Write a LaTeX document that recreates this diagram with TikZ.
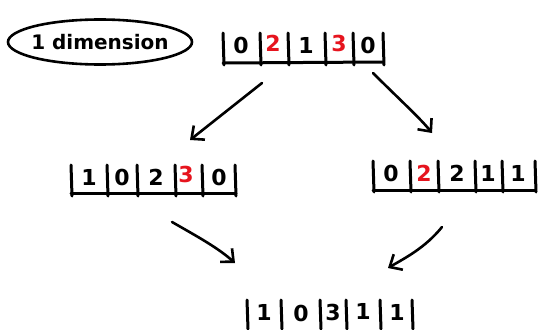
\documentclass[tikz,border=0pt]{standalone}
\usepackage{fontspec}
\setmainfont{DejaVu Sans}
\usetikzlibrary{arrows.meta,shapes.geometric}
\definecolor{hred}{RGB}{230,20,30}
\tikzset{
  bar/.style={line width=3pt,line cap=round,black},
  arr/.style={line width=2.6pt,line cap=round,-{Straight Barb[length=10pt,width=18pt,line width=2.6pt]}},
  digit/.style={font=\fontsize{22}{22}\selectfont\bfseries,inner sep=0pt},
  reddigit/.style={digit,text=hred},
  oval/.style={draw,ellipse,line width=2.6pt,minimum width=184pt,minimum height=45pt,inner sep=0pt},
  ovaltext/.style={inner sep=0pt,font=\fontsize{20}{20}\selectfont\bfseries}
}
\begin{document}
\begin{tikzpicture}[x=1pt,y=-1pt]
\useasboundingbox (0,0) rectangle (540,329);
% label
\node[oval] (lbl) at (100,42) {};
\node[ovaltext] (lbltext) at (lbl.center) {1 dimension};
% top array
\draw[bar] (223,63) -- (383,62);
\foreach \x in {223,260,288,325,353,383} \draw[bar] (\x,33) -- (\x+1,65);
\node[digit] (t1) at (241,45) {0};
\node[reddigit] (t2) at (273,43) {2};
\node[digit] (t3) at (306,45) {1};
\node[reddigit] (t4) at (339,43) {3};
\node[digit] (t5) at (368,45) {0};
% left middle
\draw[bar] (71,193) -- (236,193);
\foreach \x in {71,107,137,175,202,235} \draw[bar] (\x,165) -- (\x+1,196);
\node[digit] (l1) at (89,177) {1};
\node[digit] (l2) at (122,177) {0};
\node[digit] (l3) at (156,177) {2};
\node[reddigit] (l4) at (186,174) {3};
\node[digit] (l5) at (219,177) {0};
% right middle
\draw[bar] (373,190) -- (535,190);
\foreach \x in {373,410,438,475,502,535} \draw[bar] (\x,161) -- (\x+1,192);
\node[digit] (r1) at (391,173) {0};
\node[reddigit] (r2) at (424,173) {2};
\node[digit] (r3) at (457,173) {2};
\node[digit] (r4) at (488,173) {1};
\node[digit] (r5) at (518,173) {1};
% bottom
\foreach \x in {247,281,320,346,380,412} \draw[bar] (\x,300) -- (\x+1,329);
\node[digit] (b1) at (264,312) {1};
\node[digit] (b2) at (301,313) {0};
\node[digit] (b3) at (333,312) {3};
\node[digit] (b4) at (363,311) {1};
\node[digit] (b5) at (397,312) {1};
% arrows
\coordinate (a1s) at (262,83); \coordinate (a1e) at (190,140);
\coordinate (a2s) at (373,73); \coordinate (a2e) at (432,133);
\coordinate (a3s) at (172,222); \coordinate (a3e) at (235,263);
\coordinate (a4s) at (442,227); \coordinate (a4e) at (388,268);
\draw[arr] (a1s) -- (a1e);
\draw[arr] (a2s) .. controls (400,100) and (420,118) .. (a2e);
\draw[arr] (a3s) .. controls (200,238) and (218,248) .. (a3e);
\draw[arr] (a4s) .. controls (425,248) and (405,258) .. (a4e);
\end{tikzpicture}
\end{document}
